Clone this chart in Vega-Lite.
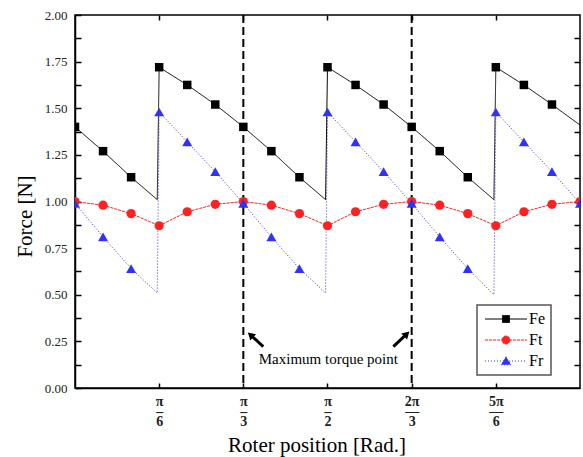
{
  "$schema": "https://vega.github.io/schema/vega-lite/v6.json",
  "width": 505,
  "height": 373,
  "autosize": {"type": "none"},
  "padding": {"left": 75, "top": 15, "right": 3, "bottom": 69},
  "background": "white",
  "config": {
    "view": {"stroke": "black", "strokeWidth": 1.5},
    "font": "Liberation Serif"
  },
  "datasets": {
    "lines": [
      {"series": "Fe", "x": 0, "force": 1.40},
      {"series": "Fe", "x": 0.1745, "force": 1.27},
      {"series": "Fe", "x": 0.3491, "force": 1.13},
      {"series": "Fe", "x": 0.5116, "force": 1.01},
      {"series": "Fe", "x": 0.5236, "force": 1.72},
      {"series": "Fe", "x": 0.6981, "force": 1.625},
      {"series": "Fe", "x": 0.8727, "force": 1.52},
      {"series": "Fe", "x": 1.0472, "force": 1.40},
      {"series": "Fe", "x": 1.2217, "force": 1.27},
      {"series": "Fe", "x": 1.3963, "force": 1.13},
      {"series": "Fe", "x": 1.5588, "force": 1.01},
      {"series": "Fe", "x": 1.5708, "force": 1.72},
      {"series": "Fe", "x": 1.7453, "force": 1.625},
      {"series": "Fe", "x": 1.9199, "force": 1.52},
      {"series": "Fe", "x": 2.0944, "force": 1.40},
      {"series": "Fe", "x": 2.2689, "force": 1.27},
      {"series": "Fe", "x": 2.4435, "force": 1.13},
      {"series": "Fe", "x": 2.6060, "force": 1.01},
      {"series": "Fe", "x": 2.6180, "force": 1.72},
      {"series": "Fe", "x": 2.7925, "force": 1.625},
      {"series": "Fe", "x": 2.9671, "force": 1.52},
      {"series": "Fe", "x": 3.1416, "force": 1.41},
      {"series": "Ft", "x": 0, "force": 1.00},
      {"series": "Ft", "x": 0.1745, "force": 0.98},
      {"series": "Ft", "x": 0.3491, "force": 0.935},
      {"series": "Ft", "x": 0.5236, "force": 0.87},
      {"series": "Ft", "x": 0.6981, "force": 0.945},
      {"series": "Ft", "x": 0.8727, "force": 0.985},
      {"series": "Ft", "x": 1.0472, "force": 1.00},
      {"series": "Ft", "x": 1.2217, "force": 0.98},
      {"series": "Ft", "x": 1.3963, "force": 0.935},
      {"series": "Ft", "x": 1.5708, "force": 0.87},
      {"series": "Ft", "x": 1.7453, "force": 0.945},
      {"series": "Ft", "x": 1.9199, "force": 0.985},
      {"series": "Ft", "x": 2.0944, "force": 1.00},
      {"series": "Ft", "x": 2.2689, "force": 0.98},
      {"series": "Ft", "x": 2.4435, "force": 0.935},
      {"series": "Ft", "x": 2.6180, "force": 0.87},
      {"series": "Ft", "x": 2.7925, "force": 0.945},
      {"series": "Ft", "x": 2.9671, "force": 0.985},
      {"series": "Ft", "x": 3.1416, "force": 1.00},
      {"series": "Fr", "x": 0, "force": 0.99},
      {"series": "Fr", "x": 0.1745, "force": 0.81},
      {"series": "Fr", "x": 0.3491, "force": 0.64},
      {"series": "Fr", "x": 0.5116, "force": 0.51},
      {"series": "Fr", "x": 0.5236, "force": 1.48},
      {"series": "Fr", "x": 0.6981, "force": 1.32},
      {"series": "Fr", "x": 0.8727, "force": 1.16},
      {"series": "Fr", "x": 1.0472, "force": 0.99},
      {"series": "Fr", "x": 1.2217, "force": 0.81},
      {"series": "Fr", "x": 1.3963, "force": 0.64},
      {"series": "Fr", "x": 1.5588, "force": 0.51},
      {"series": "Fr", "x": 1.5708, "force": 1.48},
      {"series": "Fr", "x": 1.7453, "force": 1.32},
      {"series": "Fr", "x": 1.9199, "force": 1.16},
      {"series": "Fr", "x": 2.0944, "force": 0.99},
      {"series": "Fr", "x": 2.2689, "force": 0.81},
      {"series": "Fr", "x": 2.4435, "force": 0.64},
      {"series": "Fr", "x": 2.6060, "force": 0.50},
      {"series": "Fr", "x": 2.6180, "force": 1.48},
      {"series": "Fr", "x": 2.7925, "force": 1.32},
      {"series": "Fr", "x": 2.9671, "force": 1.16},
      {"series": "Fr", "x": 3.1416, "force": 0.99}
    ],
    "markers": [
      {"series": "Fe", "x": 0, "force": 1.40},
      {"series": "Fe", "x": 0.1745, "force": 1.27},
      {"series": "Fe", "x": 0.3491, "force": 1.13},
      {"series": "Fe", "x": 0.5236, "force": 1.72},
      {"series": "Fe", "x": 0.6981, "force": 1.625},
      {"series": "Fe", "x": 0.8727, "force": 1.52},
      {"series": "Fe", "x": 1.0472, "force": 1.40},
      {"series": "Fe", "x": 1.2217, "force": 1.27},
      {"series": "Fe", "x": 1.3963, "force": 1.13},
      {"series": "Fe", "x": 1.5708, "force": 1.72},
      {"series": "Fe", "x": 1.7453, "force": 1.625},
      {"series": "Fe", "x": 1.9199, "force": 1.52},
      {"series": "Fe", "x": 2.0944, "force": 1.40},
      {"series": "Fe", "x": 2.2689, "force": 1.27},
      {"series": "Fe", "x": 2.4435, "force": 1.13},
      {"series": "Fe", "x": 2.6180, "force": 1.72},
      {"series": "Fe", "x": 2.7925, "force": 1.625},
      {"series": "Fe", "x": 2.9671, "force": 1.52},
      {"series": "Ft", "x": 0, "force": 1.00},
      {"series": "Ft", "x": 0.1745, "force": 0.98},
      {"series": "Ft", "x": 0.3491, "force": 0.935},
      {"series": "Ft", "x": 0.5236, "force": 0.87},
      {"series": "Ft", "x": 0.6981, "force": 0.945},
      {"series": "Ft", "x": 0.8727, "force": 0.985},
      {"series": "Ft", "x": 1.0472, "force": 1.00},
      {"series": "Ft", "x": 1.2217, "force": 0.98},
      {"series": "Ft", "x": 1.3963, "force": 0.935},
      {"series": "Ft", "x": 1.5708, "force": 0.87},
      {"series": "Ft", "x": 1.7453, "force": 0.945},
      {"series": "Ft", "x": 1.9199, "force": 0.985},
      {"series": "Ft", "x": 2.0944, "force": 1.00},
      {"series": "Ft", "x": 2.2689, "force": 0.98},
      {"series": "Ft", "x": 2.4435, "force": 0.935},
      {"series": "Ft", "x": 2.6180, "force": 0.87},
      {"series": "Ft", "x": 2.7925, "force": 0.945},
      {"series": "Ft", "x": 2.9671, "force": 0.985},
      {"series": "Ft", "x": 3.1416, "force": 1.00},
      {"series": "Fr", "x": 0, "force": 0.99},
      {"series": "Fr", "x": 0.1745, "force": 0.81},
      {"series": "Fr", "x": 0.3491, "force": 0.64},
      {"series": "Fr", "x": 0.5236, "force": 1.48},
      {"series": "Fr", "x": 0.6981, "force": 1.32},
      {"series": "Fr", "x": 0.8727, "force": 1.16},
      {"series": "Fr", "x": 1.0472, "force": 0.99},
      {"series": "Fr", "x": 1.2217, "force": 0.81},
      {"series": "Fr", "x": 1.3963, "force": 0.64},
      {"series": "Fr", "x": 1.5708, "force": 1.48},
      {"series": "Fr", "x": 1.7453, "force": 1.32},
      {"series": "Fr", "x": 1.9199, "force": 1.16},
      {"series": "Fr", "x": 2.0944, "force": 0.99},
      {"series": "Fr", "x": 2.2689, "force": 0.81},
      {"series": "Fr", "x": 2.4435, "force": 0.64},
      {"series": "Fr", "x": 2.6180, "force": 1.48},
      {"series": "Fr", "x": 2.7925, "force": 1.32},
      {"series": "Fr", "x": 2.9671, "force": 1.16},
      {"series": "Fr", "x": 3.1416, "force": 0.99}
    ],
    "guides": [
      {"x": 1.0471976},
      {"x": 2.0943951}
    ],
    "arrows": [
      {"side": "left", "x": 1.1711, "y": 0.2215, "x2": 1.092, "y2": 0.285},
      {"side": "right", "x": 1.9805, "y": 0.2215, "x2": 2.064, "y2": 0.290}
    ],
    "notes": [
      {"label": "Maximum torque point", "x": 1.5758, "y": 0.1555}
    ]
  },
  "resolve": {"axis": {"x": "independent", "y": "independent"}},
  "layer": [
    {
      "data": {"name": "lines"},
      "mark": {"type": "line", "strokeWidth": 1, "clip": true},
      "encoding": {
        "x": {
          "field": "x", "type": "quantitative",
          "scale": {"domain": [0, 3.14159265], "nice": false, "zero": false},
          "axis": {
            "orient": "bottom",
            "values": [0.5235988, 1.0471976, 1.5707963, 2.0943951, 2.6179939],
            "labelExpr": "datum.value < 0.6 ? ['π','–','6'] : datum.value < 1.1 ? ['π','–','3'] : datum.value < 1.6 ? ['π','–','2'] : datum.value < 2.2 ? ['2π','—','3'] : ['5π','—','6']",
            "tickSize": -5, "tickColor": "black", "tickWidth": 1.5,
            "domain": true, "domainColor": "black", "domainWidth": 1.5,
            "grid": false,
            "labelFont": "Liberation Serif", "labelFontSize": 14, "labelFontWeight": "bold",
            "labelLineHeight": 10, "labelPadding": 11, "labelColor": "#222",
            "labelOverlap": false, "labelFlush": false,
            "title": "Roter position [Rad.]",
            "titleFont": "Liberation Serif", "titleFontSize": 21, "titleFontWeight": "normal",
            "titleColor": "black", "titlePadding": 6, "titleX": 241.5
          }
        },
        "y": {
          "field": "force", "type": "quantitative",
          "scale": {"domain": [0, 2], "nice": false, "zero": false},
          "axis": {
            "orient": "left",
            "values": [0, 0.125, 0.25, 0.375, 0.5, 0.625, 0.75, 0.875, 1, 1.125, 1.25, 1.375, 1.5, 1.625, 1.75, 1.875, 2],
            "labelExpr": "datum.value % 0.25 < 0.01 ? format(datum.value, '.2f') : ''",
            "tickSize": -6, "tickColor": "black", "tickWidth": 1.5,
            "domain": true, "domainColor": "black", "domainWidth": 1.5,
            "grid": false,
            "labelFont": "Liberation Serif", "labelFontSize": 13, "labelPadding": 14,
            "labelColor": "#222", "labelOverlap": false, "labelFlush": false,
            "title": "Force [N]",
            "titleFont": "Liberation Serif", "titleFontSize": 21, "titleFontWeight": "normal",
            "titleColor": "black", "titleX": -40, "titleY": 201, "titleAngle": -90, "titleBaseline": "bottom", "titleAlign": "center"
          }
        },
        "color": {
          "field": "series", "type": "nominal",
          "scale": {"domain": ["Fe", "Ft", "Fr"], "range": ["#000000", "#ff2020", "#3030ff"]},
          "legend": {
            "title": null,
            "orient": "none",
            "legendX": 402,
            "legendY": 290,
            "direction": "vertical",
            "symbolSize": 100,
            "symbolOffset": 15,
            "labelOffset": 15,
            "rowPadding": 5,
            "padding": 6,
            "strokeColor": "#555",
            "fillColor": "white",
            "labelFont": "Liberation Serif",
            "labelFontSize": 16,
            "labelColor": "black",
            "encode": {
              "legend": {"update": {"strokeWidth": {"value": 1.5}}},
              "symbols": {
                "update": {
                  "shape": {"signal": "datum.value === 'Fe' ? 'M-4.2,0H4.2M-0.7,-0.7H0.7V0.7H-0.7Z' : datum.value === 'Ft' ? 'M-4.2,0H4.2M0.8,0A0.8,0.8 0 1,1 -0.8,0A0.8,0.8 0 1,1 0.8,0Z' : 'M-4.2,0H4.2M0,-0.85L0.95,0.75H-0.95Z'"},
                  "strokeDash": {"signal": "datum.value === 'Fe' ? [] : datum.value === 'Ft' ? [2, 1.5] : [1, 1.5]"},
                  "strokeWidth": {"value": 1},
                  "fill": {"signal": "datum.value === 'Fe' ? '#000000' : datum.value === 'Ft' ? '#ff2020' : '#3030ff'"},
                  "stroke": {"signal": "datum.value === 'Fe' ? '#000000' : datum.value === 'Ft' ? '#ff2020' : '#3030ff'"},
                  "opacity": {"value": 1},
                  "fillOpacity": {"value": 1},
                  "strokeOpacity": {"value": 1}
                }
              }
            }
          }
        },
        "strokeDash": {
          "field": "series", "type": "nominal",
          "scale": {"domain": ["Fe", "Ft", "Fr"], "range": [[1, 0], [3, 1], [1, 2]]},
          "legend": null
        }
      }
    },
    {
      "data": {"name": "guides"},
      "mark": {"type": "rule", "strokeDash": [8, 4], "strokeWidth": 2, "color": "black"},
      "encoding": {
        "x": {
          "field": "x", "type": "quantitative",
          "scale": {"domain": [0, 3.14159265], "nice": false, "zero": false},
          "axis": {
            "orient": "top",
            "values": [0.5235988, 1.0471976, 1.5707963, 2.0943951, 2.6179939],
            "labels": false, "tickSize": -5, "tickColor": "black", "tickWidth": 1.5,
            "domain": false, "grid": false, "title": null
          }
        }
      }
    },
    {
      "data": {"name": "markers"},
      "transform": [{"filter": "datum.series === 'Fe'"}],
      "mark": {"type": "point", "shape": "square", "size": 72, "filled": true, "color": "#000000", "opacity": 1, "clip": true},
      "encoding": {
        "x": {"field": "x", "type": "quantitative", "scale": {"domain": [0, 3.14159265], "nice": false, "zero": false}, "axis": null},
        "y": {
          "field": "force", "type": "quantitative",
          "scale": {"domain": [0, 2], "nice": false, "zero": false},
          "axis": {
            "orient": "right",
            "values": [0.125, 0.25, 0.375, 0.5, 0.625, 0.75, 0.875, 1, 1.125, 1.25, 1.375, 1.5, 1.625, 1.75, 1.875],
            "labels": false, "tickSize": -6, "tickColor": "black", "tickWidth": 1.5,
            "domain": false, "grid": false, "title": null
          }
        }
      }
    },
    {
      "data": {"name": "markers"},
      "transform": [{"filter": "datum.series === 'Ft'"}],
      "mark": {"type": "point", "shape": "circle", "size": 85, "filled": true, "color": "#ff2020", "opacity": 1, "clip": true},
      "encoding": {
        "x": {"field": "x", "type": "quantitative", "scale": {"domain": [0, 3.14159265], "nice": false, "zero": false}, "axis": null},
        "y": {"field": "force", "type": "quantitative", "scale": {"domain": [0, 2], "nice": false, "zero": false}, "axis": null}
      }
    },
    {
      "data": {"name": "markers"},
      "transform": [{"filter": "datum.series === 'Fr'"}],
      "mark": {"type": "point", "shape": "triangle-up", "size": 100, "filled": true, "color": "#3030ff", "opacity": 1, "clip": true},
      "encoding": {
        "x": {"field": "x", "type": "quantitative", "scale": {"domain": [0, 3.14159265], "nice": false, "zero": false}, "axis": null},
        "y": {"field": "force", "type": "quantitative", "scale": {"domain": [0, 2], "nice": false, "zero": false}, "axis": null}
      }
    },
    {
      "data": {"name": "arrows"},
      "mark": {"type": "rule", "strokeWidth": 3, "color": "black"},
      "encoding": {
        "x": {"field": "x", "type": "quantitative", "scale": {"domain": [0, 3.14159265], "nice": false, "zero": false}, "axis": null},
        "y": {"field": "y", "type": "quantitative", "scale": {"domain": [0, 2], "nice": false, "zero": false}, "axis": null},
        "x2": {"field": "x2"},
        "y2": {"field": "y2"}
      }
    },
    {
      "data": {"name": "arrows"},
      "transform": [{"filter": "datum.side === 'left'"}],
      "mark": {"type": "point", "shape": "triangle-up", "filled": true, "color": "black", "opacity": 1, "size": 70, "angle": -47},
      "encoding": {
        "x": {"field": "x2", "type": "quantitative", "scale": {"domain": [0, 3.14159265], "nice": false, "zero": false}, "axis": null},
        "y": {"field": "y2", "type": "quantitative", "scale": {"domain": [0, 2], "nice": false, "zero": false}, "axis": null}
      }
    },
    {
      "data": {"name": "arrows"},
      "transform": [{"filter": "datum.side === 'right'"}],
      "mark": {"type": "point", "shape": "triangle-up", "filled": true, "color": "black", "opacity": 1, "size": 70, "angle": 46},
      "encoding": {
        "x": {"field": "x2", "type": "quantitative", "scale": {"domain": [0, 3.14159265], "nice": false, "zero": false}, "axis": null},
        "y": {"field": "y2", "type": "quantitative", "scale": {"domain": [0, 2], "nice": false, "zero": false}, "axis": null}
      }
    },
    {
      "data": {"name": "notes"},
      "mark": {"type": "text", "font": "Liberation Serif", "fontSize": 15, "color": "black", "align": "center", "baseline": "middle"},
      "encoding": {
        "x": {"field": "x", "type": "quantitative", "scale": {"domain": [0, 3.14159265], "nice": false, "zero": false}, "axis": null},
        "y": {"field": "y", "type": "quantitative", "scale": {"domain": [0, 2], "nice": false, "zero": false}, "axis": null},
        "text": {"field": "label"}
      }
    }
  ]
}
